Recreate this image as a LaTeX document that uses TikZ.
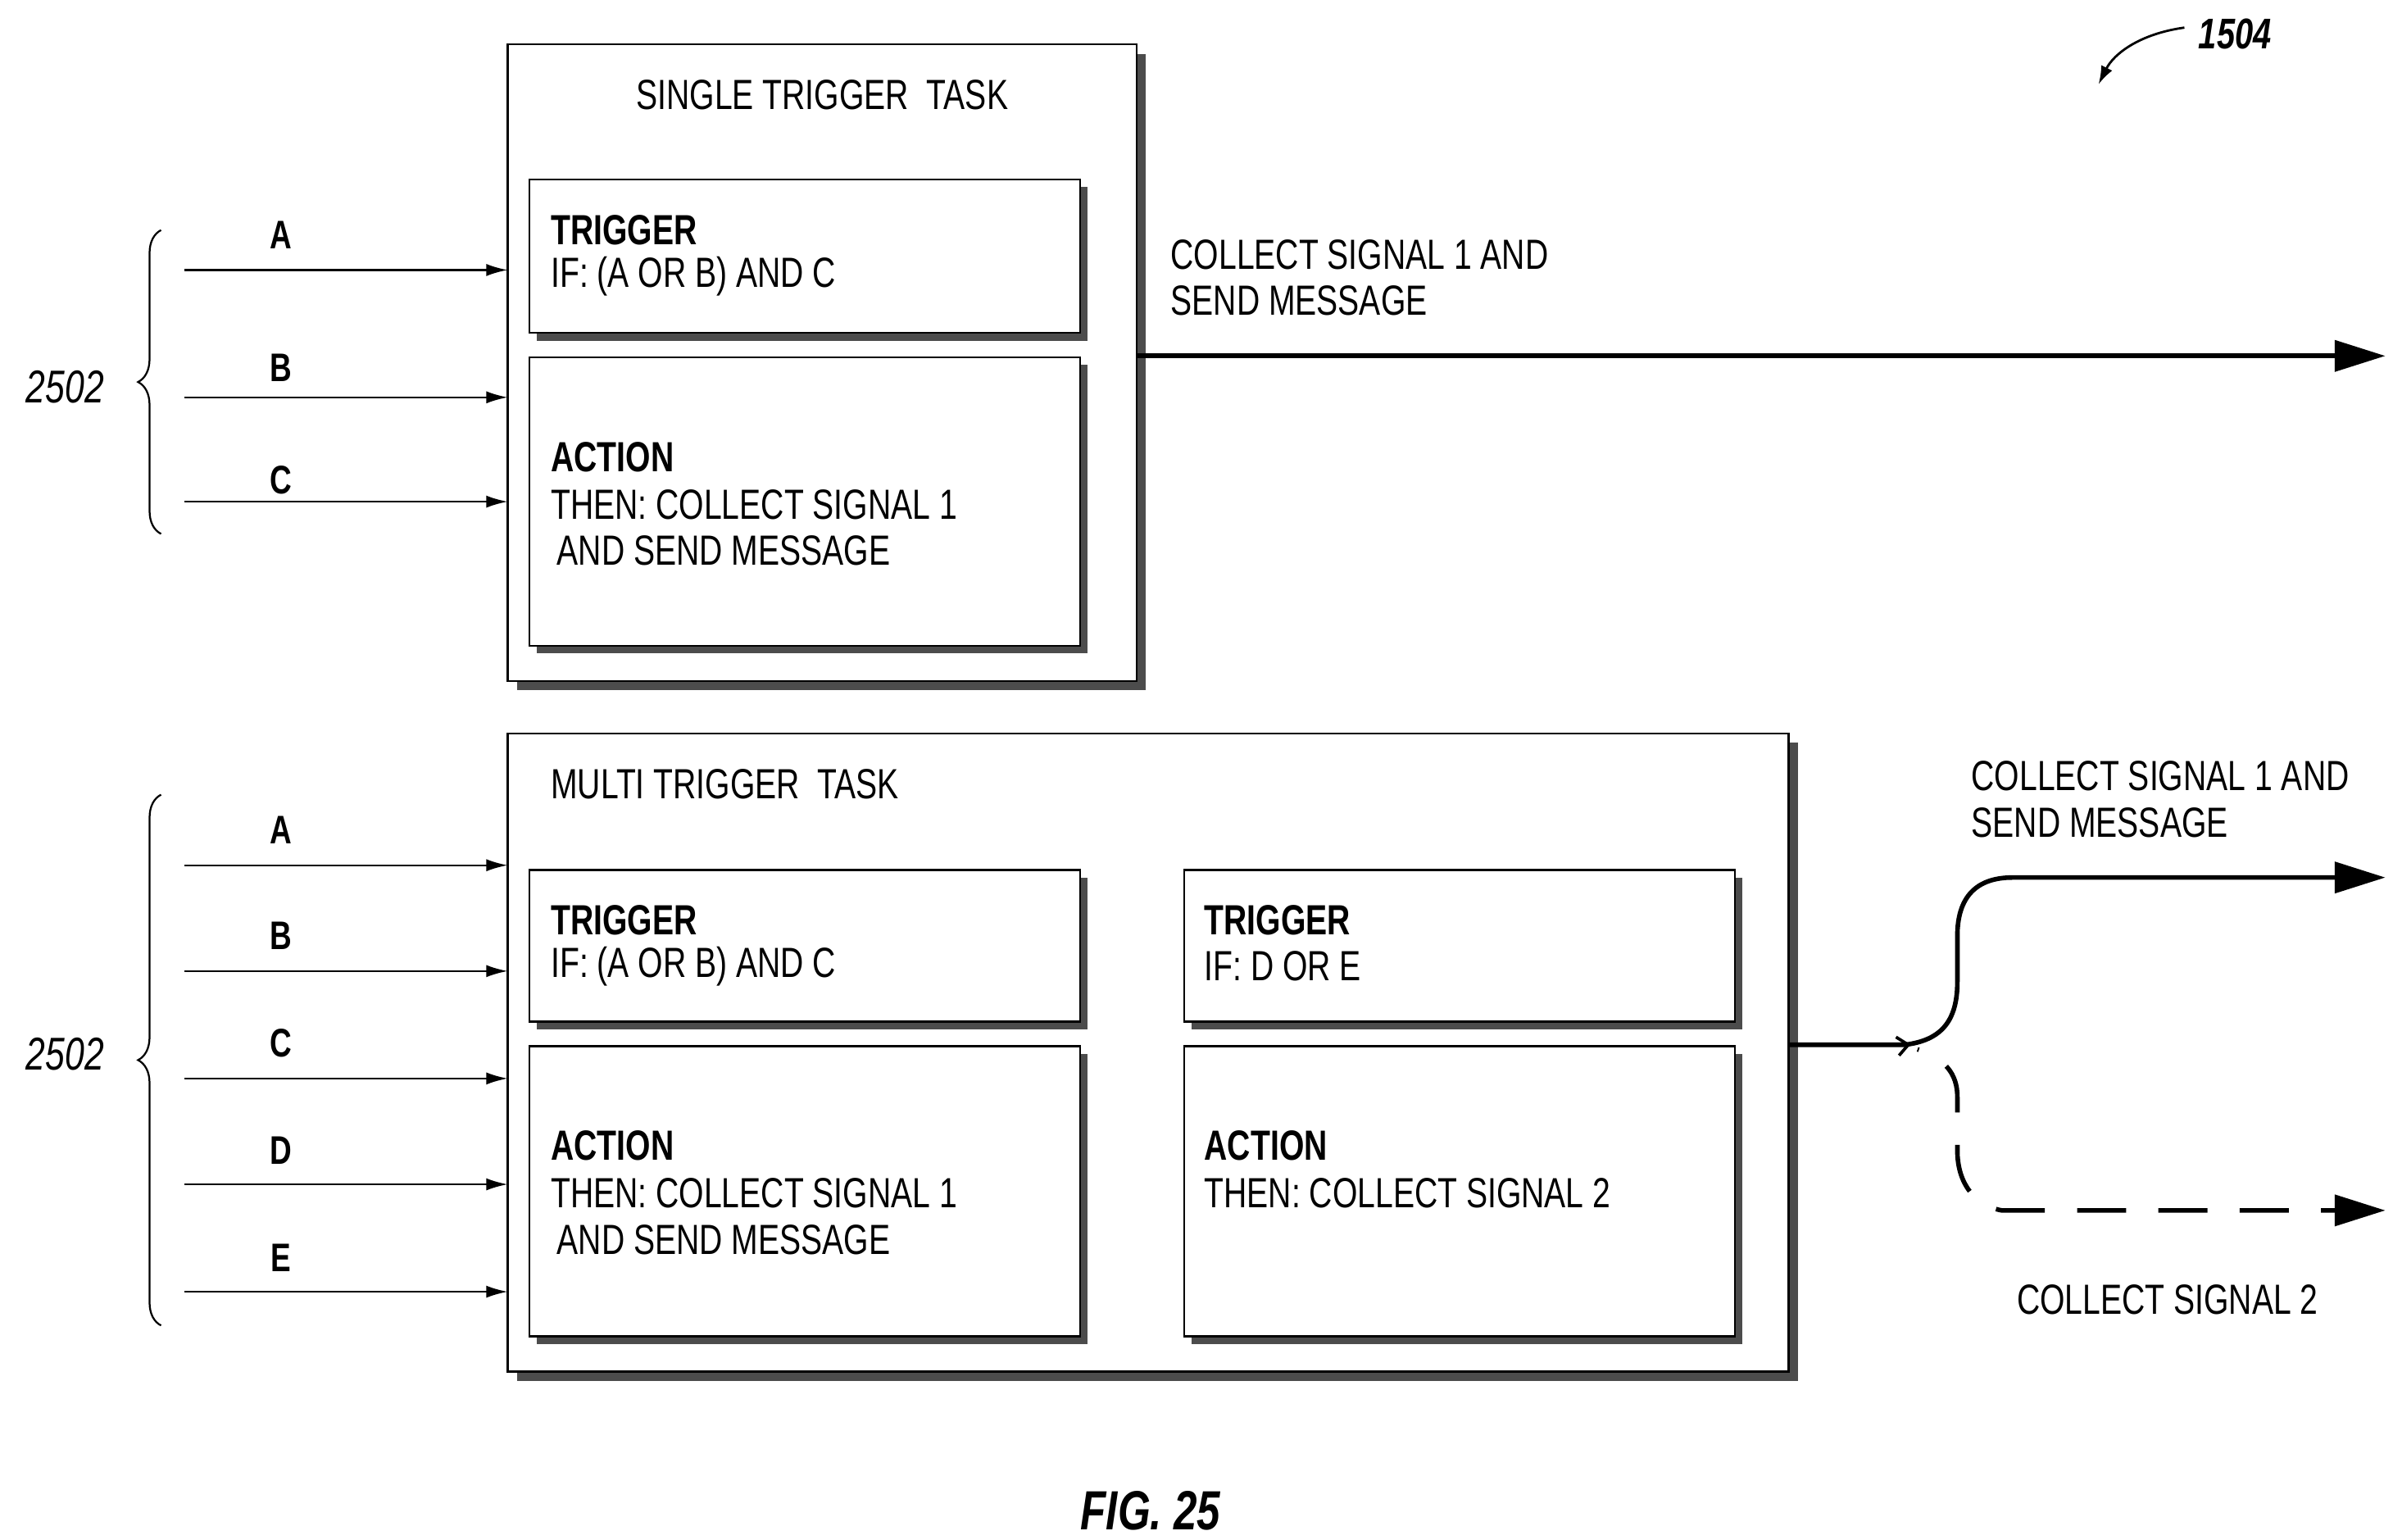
\documentclass[tikz,border=0pt]{standalone}
\usepackage{fontspec}
\setmainfont{Liberation Sans}[FakeStretch=0.76]
\usetikzlibrary{arrows.meta,decorations.pathreplacing}
\begin{document}
\begin{tikzpicture}[x=1pt,y=-1pt,
  txt/.style={font=\fontsize{27.5}{30}\selectfont,inner sep=0pt,anchor=west},
  bx/.style={draw=black,line width=1.3pt,fill=white},
  shd/.style={fill=black!70},
  inp/.style={line width=1.2pt,-{Latex[length=14pt,width=8pt]}},
  outp/.style={line width=3pt,-{Triangle[length=33pt,width=20pt]}},
  lab/.style={font=\fontsize{26}{28}\selectfont\bfseries,inner sep=0pt},
  brc/.style={decorate,decoration={brace,amplitude=15pt,mirror},line width=1.2pt}]
\useasboundingbox (0,0) rectangle (1560,1003.8);
% shadows + boxes
\newcommand{\shbox}[6]{% name, x1,y1,x2,y2, offset
  \fill[shd] (#2+#6,#3+#6) rectangle (#4+#6,#5+#6);
  \draw[bx] (#2,#3) rectangle (#4,#5);
  \coordinate (#1nw) at (#2,#3); \coordinate (#1se) at (#4,#5);}
\shbox{o1}{331}{29}{741}{444}{6}
\shbox{t1}{345}{117}{704}{217}{5}
\shbox{a1}{345}{233}{704}{421}{5}
\shbox{o2}{331}{478}{1166}{894}{6}
\shbox{t2}{345}{567}{704}{666}{5}
\shbox{a2}{345}{682}{704}{871}{5}
\shbox{t3}{772}{567}{1131}{666}{5}
\shbox{a3}{772}{682}{1131}{871}{5}
% texts top
\node[txt,anchor=center] (st) at (536,62) {SINGLE TRIGGER\ \ TASK};
\node[txt] (tt1) at (359,150) {\bfseries TRIGGER};
\node[txt] (ti1) at (359,180) {IF: (A OR B) AND C};
\node[txt] (ta1) at (359,298) {\bfseries ACTION};
\node[txt] (th1) at (359,329) {THEN: COLLECT SIGNAL 1};
\node[txt] (tn1) at (363,359) {AND SEND MESSAGE};
\node[txt] (ol1) at (763,166) {COLLECT SIGNAL 1 AND};
\node[txt] (ol2) at (763,196) {SEND MESSAGE};
% texts bottom
\node[txt] (mt) at (359,511) {MULTI TRIGGER\ \ TASK};
\node[txt] (tt2) at (359,600) {\bfseries TRIGGER};
\node[txt] (ti2) at (359,630) {IF: (A OR B) AND C};
\node[txt] (ta2) at (359,747) {\bfseries ACTION};
\node[txt] (th2) at (359,778) {THEN: COLLECT SIGNAL 1};
\node[txt] (tn2) at (363,808) {AND SEND MESSAGE};
\node[txt] (tt3) at (785,600) {\bfseries TRIGGER};
\node[txt] (ti3) at (785,630) {IF: D OR E};
\node[txt] (ta3) at (785,747) {\bfseries ACTION};
\node[txt] (th3) at (785,778) {THEN: COLLECT SIGNAL 2};
\node[txt] (bl1) at (1285,506) {COLLECT SIGNAL 1 AND};
\node[txt] (bl2) at (1285,536) {SEND MESSAGE};
\node[txt,anchor=center] (bl3) at (1413,847) {COLLECT SIGNAL 2};
% inputs
\foreach \n/\y/\ly in {A/176/153,B/259/240,C/327/313}{
  \coordinate (ia\n) at (120,\y); \coordinate (ea\n) at (331,\y);
  \draw[inp] (ia\n) -- (ea\n);
  \node[lab] (la\n) at (183,\ly) {\n};}
\foreach \n/\y/\ly in {A/564/541,B/633/610,C/703/680,D/772/750,E/842/820}{
  \coordinate (ib\n) at (120,\y); \coordinate (eb\n) at (331,\y);
  \draw[inp] (ib\n) -- (eb\n);
  \node[lab] (lb\n) at (183,\ly) {\n};}
% braces
\coordinate (b1t) at (105,150); \coordinate (b1b) at (105,348);
\draw[brc] (b1t) -- (b1b);
\node[txt,anchor=east,font=\fontsize{30}{32}\selectfont\itshape] (n1) at (68,252) {2502};
\coordinate (b2t) at (105,518); \coordinate (b2b) at (105,864);
\draw[brc] (b2t) -- (b2b);
\node[txt,anchor=east,font=\fontsize{30}{32}\selectfont\itshape] (n2) at (68,687) {2502};
% outputs
\coordinate (s1) at (741,232); \coordinate (e1) at (1555,232);
\draw[outp] (s1) -- (e1);
\coordinate (s2) at (1166,681); \coordinate (e2) at (1555,572); \coordinate (e3) at (1555,789);
\draw[line width=3pt,-{Triangle[length=33pt,width=20pt]}] (s2) -- (1242,681)
  .. controls (1266,678) and (1276,665) .. (1276,640) -- (1276,610)
  .. controls (1276,585) and (1288,572) .. (1312,572) -- (e2);
\draw[line width=2pt] (1236,676) -- (1244,681) -- (1238,688);
\draw[line width=3pt,dash pattern=on 32pt off 21pt,dash phase=-22pt,-{Triangle[length=33pt,width=20pt]}]
  (1250,684) .. controls (1268,690) and (1276,700) .. (1276,715) -- (1276,750)
  .. controls (1276,772) and (1288,786) .. (1305,789) -- (e3);
% ref
\node[font=\fontsize{28}{32}\selectfont\bfseries\itshape,inner sep=0pt] (r) at (1457,22) {1504};
\coordinate (ra) at (1368,55);
\draw[line width=1.5pt,-{Latex[length=12pt,width=8pt]}] (1424,18) .. controls (1395,22) and (1378,35) .. (ra);
\node[font=\fontsize{36}{38}\selectfont\bfseries\itshape,inner sep=0pt] (fig) at (750,985) {FIG. 25};
\end{tikzpicture}
\end{document}
